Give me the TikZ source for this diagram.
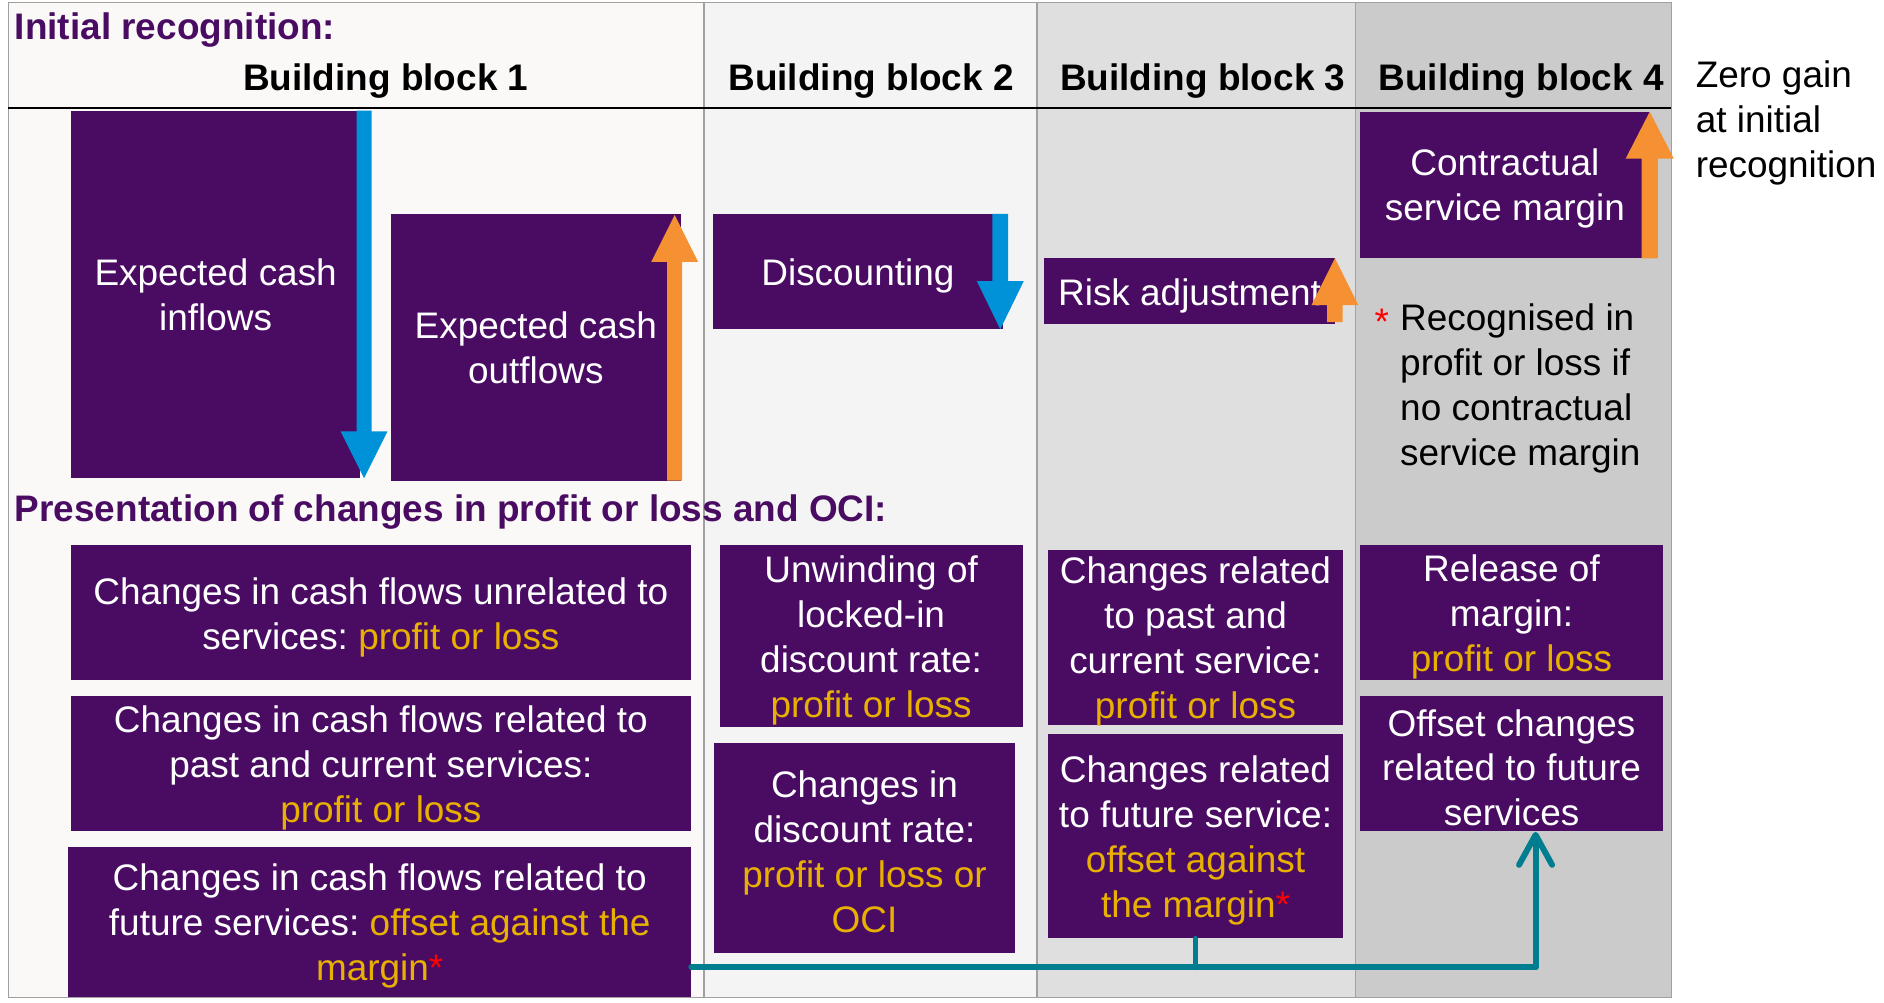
\documentclass[tikz,border=0pt]{standalone}
\usepackage{fontspec}
\setmainfont{Liberation Sans}
\usetikzlibrary{arrows.meta}
\frenchspacing
\definecolor{ipurple}{RGB}{74,12,99}
\definecolor{iyellow}{RGB}{232,176,0}
\definecolor{iblue}{RGB}{0,146,216}
\definecolor{iorange}{RGB}{245,145,50}
\definecolor{iteal}{RGB}{0,125,143}
\definecolor{colA}{RGB}{250,249,248}
\definecolor{colB}{RGB}{244,244,244}
\definecolor{colC}{RGB}{223,223,223}
\definecolor{colD}{RGB}{203,203,203}
\definecolor{rule}{RGB}{160,160,160}
\newcommand\fs{\fontsize{17.5}{21.3}\selectfont}
\newcommand\pl[1]{\textcolor{iyellow}{#1}}
% [text options], name, left, top, right, bottom, text
\newcommand\pbx[7][]{\node[pbox,minimum width={(#5-#3)*0.02cm},minimum height={(#6-#4)*0.02cm},label={[ptext,#1]center:{#7}}] (#2) at ({(#3+#5)/2},{(#4+#6)/2}) {};}
% colour, x, start y, head y, tip y, half shaft, half head
\newcommand\fatarrow[7]{\fill[#1] (#2-#6,#3) -- (#2-#6,#4) -- (#2-#7,#4) -- (#2,#5) -- (#2+#7,#4) -- (#2+#6,#4) -- (#2+#6,#3) -- cycle;}

\begin{document}
\begin{tikzpicture}[x=0.02cm,y=-0.02cm,
  pbox/.style={fill=ipurple,inner sep=0pt},
  ptext/.style={text=white,align=center,font=\fs,inner sep=0pt,yshift=-0.07cm},
  head/.style={font=\fs\bfseries,anchor=base,inner sep=0pt},
  title/.style={font=\fs\bfseries,text=ipurple,anchor=base west,inner sep=0pt},
  note/.style={font=\fs,align=left,anchor=west,inner sep=0pt},
  conn/.style={iteal,line width=2.8pt,line cap=round,line join=round}]
\useasboundingbox[fill=white] (0,0) rectangle (1568,834);
\foreach \xa/\xb/\shade in {7/586/colA,586/863/colB,863/1128/colC,1128/1391/colD}
  \filldraw[fill=\shade,draw=rule,line width=0.6pt] (\xa,2) rectangle (\xb,830);
\draw[line width=1.2pt] (7,90) -- (1391,90);

\node[title] (T1) at (12,33) {Initial recognition:};
\foreach \x/\t [count=\n] in {321/1,725/2,1001/3,1266/4}
  \node[head] (H\n) at (\x,75) {Building block \t};
\node[note] (zero) at (1411,102) {Zero gain\\at initial\\recognition};

% initial recognition
\pbx[yshift=0.06cm]{inflow}{59}{92}{300}{398}{Expected cash\\inflows}
\pbx[yshift=0.06cm]{outflow}{325}{178}{567}{400}{Expected cash\\outflows}
\pbx{disc}{593}{178}{835}{274}{Discounting}
\pbx{risk}{869}{215}{1111}{270}{Risk adjustment}
\pbx[yshift=0.02cm]{csm}{1132}{93}{1373}{215}{Contractual\\service margin}
\node[note] (recog) at (1165,323) {Recognised in\\profit or loss if\\no contractual\\service margin};
\node[text=red,font=\fs,anchor=base,inner sep=0pt] (star) at (1150,278) {*};

\fatarrow{iblue}{303}{92}{359}{398}{6.25}{19.5}
\fatarrow{iorange}{561.5}{400}{218}{179}{6.25}{19.5}
\fatarrow{iblue}{832.5}{178}{234}{274}{6.5}{19.5}
\fatarrow{iorange}{1111}{268}{254}{215}{6.5}{19.5}
\fatarrow{iorange}{1373}{215}{132}{93}{6.75}{20}

% subsequent changes
\node[title] (T2) at (12,434) {Presentation of changes in profit or loss and OCI:};
\pbx{c1}{59}{454}{575}{566}{Changes in cash flows unrelated to\\services: \pl{profit or loss}}
\pbx{c2}{59}{579}{575}{692}{Changes in cash flows related to\\past and current services:\\\pl{profit or loss}}
\pbx{c3}{57}{705}{575}{830}{Changes in cash flows related to\\future services: \pl{offset against the}\\\pl{margin}\textcolor{red}{*}}
\pbx{d1}{599}{454}{851}{605}{Unwinding of\\locked-in\\discount rate:\\\pl{profit or loss}}
\pbx{d2}{594}{618}{845}{793}{Changes in\\discount rate:\\\pl{profit or loss or}\\\pl{OCI}}
\pbx{r1}{872}{458}{1118}{603}{Changes related\\to past and\\current service:\\\pl{profit or loss}}
\pbx{r2}{872}{611}{1118}{781}{Changes related\\to future service:\\\pl{offset against}\\\pl{the margin}\textcolor{red}{*}}
\pbx{m1}{1132}{454}{1384}{566}{Release of\\margin:\\\pl{profit or loss}}
\pbx{m2}{1132}{579}{1384}{692}{Offset changes\\related to future\\services}

\coordinate (turn) at (1278,805);
\begin{scope}[xshift=0.06cm,yshift=-0.06cm,opacity=.25]
  \draw[conn,black] (c3.east |- turn) -- (turn) -- ([yshift=-0.55cm]turn |- m2.south);
\end{scope}
\draw[conn,-{Straight Barb[length=0.5cm,width=0.55cm,round]}] (c3.east |- turn) -- (turn) -- (turn |- m2.south);
\draw[conn] (r2.south) -- (r2.south |- turn);
\end{tikzpicture}
\end{document}
